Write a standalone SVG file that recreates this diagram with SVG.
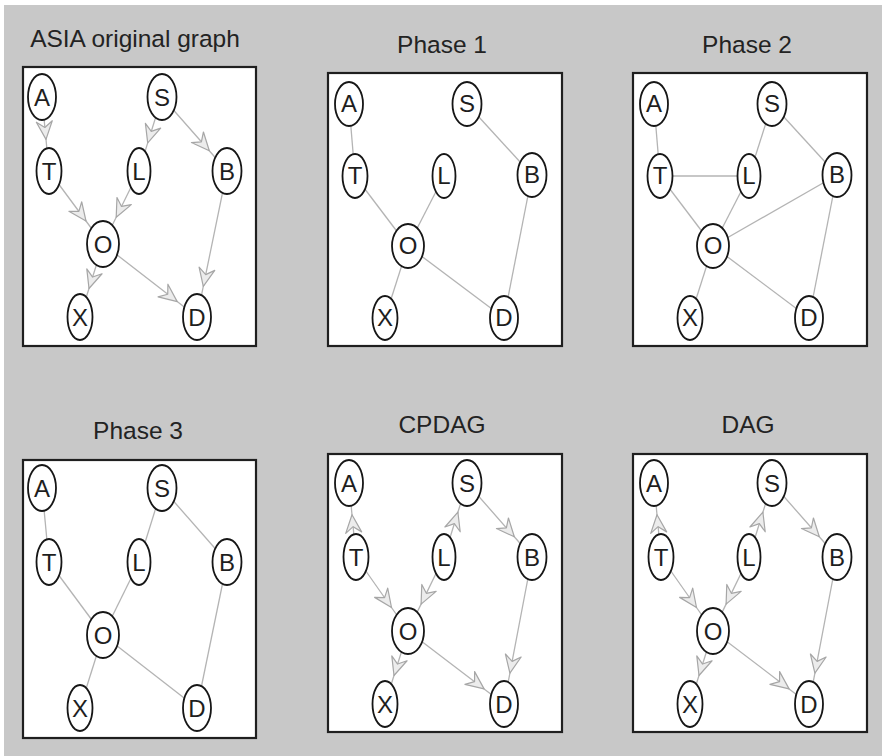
<svg xmlns="http://www.w3.org/2000/svg" width="882" height="756" viewBox="0 0 882 756">
  <style>
    .bg { fill: #c8c8c8; }
    .frame { fill: #ffffff; stroke: #1f1f1f; stroke-width: 2.2; }
    .title { font-family: "Liberation Sans", Arial, sans-serif; font-size: 24.5px; fill: #232323; text-anchor: middle; }
    .node ellipse { fill: #ffffff; stroke: #161616; stroke-width: 1.8; }
    .node text { font-family: "Liberation Sans", Arial, sans-serif; font-size: 24px; fill: #1e1e1e; text-anchor: middle; }
    .edge { fill: none; stroke: #b4b4b4; stroke-width: 1.3; }
    .arrow { marker-mid: url(#head); }
  </style>
  <defs>
    <!-- notched open arrowhead, tip at the marker origin -->
    <marker id="head" markerUnits="userSpaceOnUse" orient="auto" viewBox="-22 -11 26 22" markerWidth="26" markerHeight="22" refX="0" refY="0" overflow="visible">
      <path d="M0,0 L-18,-8 L-12,0 L-18,8 Z" fill="#ececec" stroke="#a6a6a6" stroke-width="1.2" stroke-linejoin="round"/>
    </marker>
  </defs>

  <rect x="0" y="0" width="882" height="756" fill="#ffffff"/>
  <rect class="bg" x="4" y="5" width="878" height="751"/>

  <!-- panel frames -->
  <g id="frames">
    <rect class="frame" x="23" y="67" width="233" height="279"/>
    <rect class="frame" x="328" y="73" width="234" height="273"/>
    <rect class="frame" x="633" y="73" width="234" height="273"/>
    <rect class="frame" x="23" y="460" width="233" height="278"/>
    <rect class="frame" x="328" y="454" width="234" height="278"/>
    <rect class="frame" x="633" y="454" width="234" height="278"/>
  </g>

  <g id="titles">
    <text class="title" x="135" y="47">ASIA original graph</text>
    <text class="title" x="442" y="53">Phase 1</text>
    <text class="title" x="747" y="53">Phase 2</text>
    <text class="title" x="138" y="439">Phase 3</text>
    <text class="title" x="442" y="433">CPDAG</text>
    <text class="title" x="748" y="433">DAG</text>
  </g>

  <g id="connectors">
    <!-- ASIA original graph -->
    <path class="edge arrow" d="M42 97 L46.0 139.4 L49 171"/>
    <path class="edge arrow" d="M162 97 L147.7 142.9 L139 171"/>
    <path class="edge arrow" d="M162 97 L209.3 150.8 L227 171"/>
    <path class="edge arrow" d="M49 171 L86.0 221.0 L103 244"/>
    <path class="edge arrow" d="M139 171 L116.2 217.2 L103 244"/>
    <path class="edge arrow" d="M227 171 L203.3 286.4 L197 317"/>
    <path class="edge arrow" d="M103 244 L89.0 288.5 L80 317"/>
    <path class="edge arrow" d="M103 244 L177.2 301.6 L197 317"/>

    <!-- Phase 1 -->
    <path class="edge" d="M349 104 L355 176"/>
    <path class="edge" d="M467 104 L532 175"/>
    <path class="edge" d="M355 176 L408 246"/>
    <path class="edge" d="M444 176 L408 246"/>
    <path class="edge" d="M532 175 L504 318"/>
    <path class="edge" d="M408 246 L385 318"/>
    <path class="edge" d="M408 246 L504 318"/>

    <!-- Phase 2 -->
    <path class="edge" d="M654 104 L660 176"/>
    <path class="edge" d="M772 104 L749 176"/>
    <path class="edge" d="M772 104 L837 175"/>
    <path class="edge" d="M660 176 L749 176"/>
    <path class="edge" d="M660 176 L713 246"/>
    <path class="edge" d="M749 176 L713 246"/>
    <path class="edge" d="M713 246 L837 175"/>
    <path class="edge" d="M837 175 L809 318"/>
    <path class="edge" d="M713 246 L690 318"/>
    <path class="edge" d="M713 246 L809 318"/>

    <!-- Phase 3 -->
    <path class="edge" d="M42 488 L49 562"/>
    <path class="edge" d="M162 488 L139 562"/>
    <path class="edge" d="M162 488 L227 562"/>
    <path class="edge" d="M49 562 L103 635"/>
    <path class="edge" d="M139 562 L103 635"/>
    <path class="edge" d="M227 562 L197 708"/>
    <path class="edge" d="M103 635 L80 708"/>
    <path class="edge" d="M103 635 L197 708"/>

    <!-- CPDAG -->
    <path class="edge arrow" d="M356 557 L352.0 514.7 L349 483"/>
    <path class="edge arrow" d="M444 557 L457.9 512.2 L467 483"/>
    <path class="edge arrow" d="M467 483 L514.3 536.8 L532 557"/>
    <path class="edge arrow" d="M356 557 L391.5 607.5 L408 631"/>
    <path class="edge arrow" d="M444 557 L421.1 604.1 L408 631"/>
    <path class="edge arrow" d="M408 631 L394.0 675.5 L385 704"/>
    <path class="edge arrow" d="M408 631 L484.1 688.9 L504 704"/>
    <path class="edge arrow" d="M532 557 L509.9 673.2 L504 704"/>

    <!-- DAG -->
    <path class="edge arrow" d="M661 557 L657.0 514.7 L654 483"/>
    <path class="edge arrow" d="M749 557 L762.9 512.2 L772 483"/>
    <path class="edge arrow" d="M772 483 L819.3 536.8 L837 557"/>
    <path class="edge arrow" d="M661 557 L696.5 607.5 L713 631"/>
    <path class="edge arrow" d="M749 557 L726.1 604.1 L713 631"/>
    <path class="edge arrow" d="M713 631 L699.0 675.5 L690 704"/>
    <path class="edge arrow" d="M713 631 L789.1 688.9 L809 704"/>
    <path class="edge arrow" d="M837 557 L814.9 673.2 L809 704"/>
  </g>

  <!-- ASIA original graph nodes -->
  <g id="asia-A" class="node"><ellipse cx="42" cy="97" rx="14" ry="23"/><text x="42" y="105.5">A</text></g>
  <g id="asia-S" class="node"><ellipse cx="162" cy="97" rx="14.5" ry="23"/><text x="162" y="105.5">S</text></g>
  <g id="asia-T" class="node"><ellipse cx="49" cy="171" rx="12.5" ry="23"/><text x="49" y="179.5">T</text></g>
  <g id="asia-L" class="node"><ellipse cx="139" cy="171" rx="11.5" ry="23"/><text x="139" y="179.5">L</text></g>
  <g id="asia-B" class="node"><ellipse cx="227" cy="171" rx="14.5" ry="23"/><text x="227" y="179.5">B</text></g>
  <g id="asia-O" class="node"><ellipse cx="103" cy="244" rx="16" ry="23"/><text x="103" y="252.5">O</text></g>
  <g id="asia-X" class="node"><ellipse cx="80" cy="317" rx="12.5" ry="23"/><text x="80" y="325.5">X</text></g>
  <g id="asia-D" class="node"><ellipse cx="197" cy="317" rx="14" ry="23"/><text x="197" y="325.5">D</text></g>

  <!-- Phase 1 nodes -->
  <g id="p1-A" class="node"><ellipse cx="349" cy="104" rx="14" ry="22"/><text x="349" y="111.5">A</text></g>
  <g id="p1-S" class="node"><ellipse cx="467" cy="104" rx="14.5" ry="22"/><text x="467" y="111.5">S</text></g>
  <g id="p1-T" class="node"><ellipse cx="355" cy="176" rx="12.5" ry="22"/><text x="355" y="183.5">T</text></g>
  <g id="p1-L" class="node"><ellipse cx="444" cy="176" rx="11.5" ry="22"/><text x="444" y="183.5">L</text></g>
  <g id="p1-B" class="node"><ellipse cx="532" cy="175" rx="14.5" ry="22"/><text x="532" y="182.5">B</text></g>
  <g id="p1-O" class="node"><ellipse cx="408" cy="246" rx="16" ry="22"/><text x="408" y="253.5">O</text></g>
  <g id="p1-X" class="node"><ellipse cx="385" cy="318" rx="12.5" ry="22"/><text x="385" y="325.5">X</text></g>
  <g id="p1-D" class="node"><ellipse cx="504" cy="318" rx="14" ry="22"/><text x="504" y="325.5">D</text></g>

  <!-- Phase 2 nodes -->
  <g id="p2-A" class="node"><ellipse cx="654" cy="104" rx="14" ry="22"/><text x="654" y="111.5">A</text></g>
  <g id="p2-S" class="node"><ellipse cx="772" cy="104" rx="14.5" ry="22"/><text x="772" y="111.5">S</text></g>
  <g id="p2-T" class="node"><ellipse cx="660" cy="176" rx="12.5" ry="22"/><text x="660" y="183.5">T</text></g>
  <g id="p2-L" class="node"><ellipse cx="749" cy="176" rx="11.5" ry="22"/><text x="749" y="183.5">L</text></g>
  <g id="p2-B" class="node"><ellipse cx="837" cy="175" rx="14.5" ry="22"/><text x="837" y="182.5">B</text></g>
  <g id="p2-O" class="node"><ellipse cx="713" cy="246" rx="16" ry="22"/><text x="713" y="253.5">O</text></g>
  <g id="p2-X" class="node"><ellipse cx="690" cy="318" rx="12.5" ry="22"/><text x="690" y="325.5">X</text></g>
  <g id="p2-D" class="node"><ellipse cx="809" cy="318" rx="14" ry="22"/><text x="809" y="325.5">D</text></g>

  <!-- Phase 3 nodes -->
  <g id="p3-A" class="node"><ellipse cx="42" cy="488" rx="14" ry="23"/><text x="42" y="496.5">A</text></g>
  <g id="p3-S" class="node"><ellipse cx="162" cy="488" rx="14.5" ry="23"/><text x="162" y="496.5">S</text></g>
  <g id="p3-T" class="node"><ellipse cx="49" cy="562" rx="12.5" ry="23"/><text x="49" y="570.5">T</text></g>
  <g id="p3-L" class="node"><ellipse cx="139" cy="562" rx="11.5" ry="23"/><text x="139" y="570.5">L</text></g>
  <g id="p3-B" class="node"><ellipse cx="227" cy="562" rx="14.5" ry="23"/><text x="227" y="570.5">B</text></g>
  <g id="p3-O" class="node"><ellipse cx="103" cy="635" rx="16" ry="23"/><text x="103" y="643.5">O</text></g>
  <g id="p3-X" class="node"><ellipse cx="80" cy="708" rx="12.5" ry="23"/><text x="80" y="716.5">X</text></g>
  <g id="p3-D" class="node"><ellipse cx="197" cy="708" rx="14" ry="23"/><text x="197" y="716.5">D</text></g>

  <!-- CPDAG nodes -->
  <g id="cpdag-A" class="node"><ellipse cx="349" cy="483" rx="14" ry="23"/><text x="349" y="491.5">A</text></g>
  <g id="cpdag-S" class="node"><ellipse cx="467" cy="483" rx="14.5" ry="23"/><text x="467" y="491.5">S</text></g>
  <g id="cpdag-T" class="node"><ellipse cx="356" cy="557" rx="12.5" ry="23"/><text x="356" y="565.5">T</text></g>
  <g id="cpdag-L" class="node"><ellipse cx="444" cy="557" rx="11.5" ry="23"/><text x="444" y="565.5">L</text></g>
  <g id="cpdag-B" class="node"><ellipse cx="532" cy="557" rx="14.5" ry="23"/><text x="532" y="565.5">B</text></g>
  <g id="cpdag-O" class="node"><ellipse cx="408" cy="631" rx="16" ry="23"/><text x="408" y="639.5">O</text></g>
  <g id="cpdag-X" class="node"><ellipse cx="385" cy="704" rx="12.5" ry="23"/><text x="385" y="712.5">X</text></g>
  <g id="cpdag-D" class="node"><ellipse cx="504" cy="704" rx="14" ry="23"/><text x="504" y="712.5">D</text></g>

  <!-- DAG nodes -->
  <g id="dag-A" class="node"><ellipse cx="654" cy="483" rx="14" ry="23"/><text x="654" y="491.5">A</text></g>
  <g id="dag-S" class="node"><ellipse cx="772" cy="483" rx="14.5" ry="23"/><text x="772" y="491.5">S</text></g>
  <g id="dag-T" class="node"><ellipse cx="661" cy="557" rx="12.5" ry="23"/><text x="661" y="565.5">T</text></g>
  <g id="dag-L" class="node"><ellipse cx="749" cy="557" rx="11.5" ry="23"/><text x="749" y="565.5">L</text></g>
  <g id="dag-B" class="node"><ellipse cx="837" cy="557" rx="14.5" ry="23"/><text x="837" y="565.5">B</text></g>
  <g id="dag-O" class="node"><ellipse cx="713" cy="631" rx="16" ry="23"/><text x="713" y="639.5">O</text></g>
  <g id="dag-X" class="node"><ellipse cx="690" cy="704" rx="12.5" ry="23"/><text x="690" y="712.5">X</text></g>
  <g id="dag-D" class="node"><ellipse cx="809" cy="704" rx="14" ry="23"/><text x="809" y="712.5">D</text></g>
</svg>
